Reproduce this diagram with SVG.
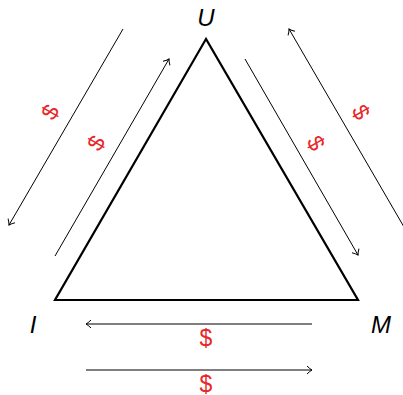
<svg xmlns="http://www.w3.org/2000/svg" width="403" height="395" viewBox="0 0 403 395">
<style>
.conn{stroke:#000;stroke-width:1;fill:none}
.lbl{font-family:"Liberation Sans",Arial,sans-serif;font-style:italic;font-size:24px;fill:#000;text-anchor:middle}
.money{font-family:"Liberation Sans",Arial,sans-serif;font-size:23px;fill:#e8282a;text-anchor:middle}
</style>
<defs>
<marker id="arr" viewBox="-6 -5 8 10" markerWidth="8" markerHeight="10" refX="0" refY="0" orient="auto" markerUnits="userSpaceOnUse">
<path d="M-5,-4 Q-2,-1 0,0 Q-2,1 -5,4" fill="none" stroke="#000" stroke-width="1"/>
</marker>
</defs>
<rect width="403" height="395" fill="#fff"/>
<g id="triangle">
<path d="M206,39 L55,300 L358,300 Z" fill="none" stroke="#000" stroke-width="2.2" stroke-linejoin="miter"/>
</g>
<g id="node-U"><text class="lbl" x="206" y="26">U</text></g>
<g id="node-I"><text class="lbl" x="33" y="333">I</text></g>
<g id="node-M"><text class="lbl" x="381" y="333">M</text></g>
<g id="connectors">
<line class="conn" x1="123" y1="29" x2="9" y2="225" marker-end="url(#arr)"/>
<line class="conn" x1="55" y1="256" x2="169" y2="59" marker-end="url(#arr)"/>
<line class="conn" x1="245" y1="59" x2="358" y2="255" marker-end="url(#arr)"/>
<line class="conn" x1="404" y1="227" x2="289" y2="29" marker-end="url(#arr)"/>
<line class="conn" x1="312" y1="324" x2="86" y2="324" marker-end="url(#arr)"/>
<line class="conn" x1="86" y1="370" x2="312" y2="370" marker-end="url(#arr)"/>
</g>
<g id="labels">
<text class="money" transform="translate(50,112) rotate(-60)" dominant-baseline="central">$</text>
<text class="money" transform="translate(96,143) rotate(-60)" dominant-baseline="central">$</text>
<text class="money" transform="translate(316,143) rotate(60)" dominant-baseline="central">$</text>
<text class="money" transform="translate(361,112) rotate(60)" dominant-baseline="central">$</text>
<text class="money" x="206" y="346">$</text>
<text class="money" x="206" y="392">$</text>
</g>
</svg>
